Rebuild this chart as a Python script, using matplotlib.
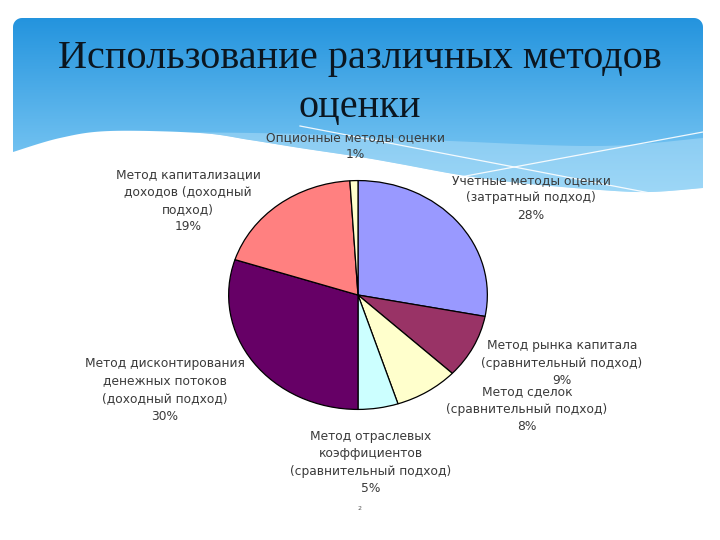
import numpy as np
import matplotlib
matplotlib.use("Agg")
import matplotlib.pyplot as plt
from matplotlib.patches import Polygon

# ---- data ----
labels = [
    "Учетные методы оценки\n(затратный подход)",
    "Метод рынка капитала\n(сравнительный подход)",
    "Метод сделок\n(сравнительный подход)",
    "Метод отраслевых\nкоэффициентов\n(сравнительный подход)",
    "Метод дисконтирования\nденежных потоков\n(доходный подход)",
    "Метод капитализации\nдоходов (доходный\nподход)",
    "Опционные методы оценки",
]
values = [28, 9, 8, 5, 30, 19, 1]
colors = ["#9999FF", "#993366", "#FFFFCC", "#CCFFFF", "#660066", "#FF8080", "#FFFFCC"]
title_lines = ["Использование различных методов", "оценки"]

# label centres in slide pixels (x, y of first line)
label_pos = [(531, 181), (562, 346), (527, 392), (371, 437), (165, 364), (188, 175), (355, 138)]

W, H = 720, 540
fig = plt.figure(figsize=(W / 100, H / 100), dpi=100)
fig.patch.set_facecolor("white")

# ---- background slide ----
bg = fig.add_axes([0, 0, 1, 1], zorder=0)
bg.set_xlim(0, W)
bg.set_ylim(H, 0)
bg.axis("off")


def catmull(pts, n=20):
    pts = np.asarray(pts, float)
    P = np.vstack([pts[0], pts, pts[-1]])
    out = []
    for i in range(1, len(P) - 2):
        p0, p1, p2, p3 = P[i - 1], P[i], P[i + 1], P[i + 2]
        t = np.linspace(0, 1, n, endpoint=False)[:, None]
        seg = 0.5 * ((2 * p1) + (-p0 + p2) * t + (2 * p0 - 5 * p1 + 4 * p2 - p3) * t ** 2
                     + (-p0 + 3 * p1 - 3 * p2 + p3) * t ** 3)
        out.append(seg)
    out.append(P[-2][None, :])
    return np.vstack(out)

wave = catmull([(13, 152), (60, 138), (110, 131), (200, 133), (250, 140), (300, 148),
                (360, 157), (400, 164), (460, 175), (520, 183), (600, 190), (650, 192), (703, 188)])
L, R, T, rc = 13, 703, 18, 9
ang = np.linspace(0, np.pi / 2, 10)
top_right = np.c_[R - rc + rc * np.cos(ang), T + rc - rc * np.sin(ang)]
top_left = np.c_[L + rc - rc * np.sin(ang), T + rc - rc * np.cos(ang)]
shape = np.vstack([wave, top_right, top_left])
clip = Polygon(shape, closed=True, transform=bg.transData, facecolor="none", edgecolor="none")
bg.add_patch(clip)

ny = 200
tt = np.linspace(0, 1, ny)[:, None]
c_top = np.array([0.14, 0.58, 0.87])
c_bot = np.array([0.55, 0.82, 0.97])
grad = c_top + (c_bot - c_top) * tt
img = np.repeat(grad[:, None, :], 2, axis=1)
im = bg.imshow(img, extent=[L, R, 200, T], aspect="auto", interpolation="bilinear", zorder=1)
im.set_clip_path(clip)

# lighter band above the wave
band_top = catmull([(150, 132), (300, 134), (450, 141), (600, 146), (703, 138)])
wave_part = wave[wave[:, 0] >= 150][::-1]
band = Polygon(np.vstack([band_top, wave_part]), closed=True, facecolor="#B8E2F8",
               edgecolor="none", alpha=0.45, zorder=2)
bg.add_patch(band)
band.set_clip_path(clip)

# thin white lines
for (x0, y0, x1, y1) in [(300, 126, 650, 193), (455, 178, 703, 132)]:
    ln, = bg.plot([x0, x1], [y0, y1], color="white", lw=0.9, alpha=0.9, zorder=3)
    ln.set_clip_path(clip)

# title
bg.text(360, 68, title_lines[0], ha="center", va="baseline", fontsize=29,
        family="Liberation Serif", color="#0B1620", zorder=5)
bg.text(360, 117, title_lines[1], ha="center", va="baseline", fontsize=29,
        family="Liberation Serif", color="#0B1620", zorder=5)

# slide number
bg.text(360, 508, "2", ha="center", va="center", fontsize=4.5, color="#555555", zorder=5)

# ---- pie ----
cx, cy, rx, ry = 358, 295, 130, 115
ax = fig.add_axes([(cx - rx) / W, (H - cy - ry) / H, 2 * rx / W, 2 * ry / H], zorder=2)
ax.pie(values, colors=colors, startangle=90, counterclock=False, radius=1,
       wedgeprops=dict(edgecolor="black", linewidth=0.9))
ax.set_aspect("auto")
ax.set_xlim(-1.005, 1.005)
ax.set_ylim(-1.005, 1.005)
ax.axis("off")

# ---- labels ----
for lab, v, (x, y) in zip(labels, values, label_pos):
    bg.text(x, y - 7, f"{lab}\n{v}%", ha="center", va="top", fontsize=8.8,
            family="DejaVu Sans", color="#3A3A3A", linespacing=1.45, zorder=6)

fig.savefig("out.png", dpi=100)
